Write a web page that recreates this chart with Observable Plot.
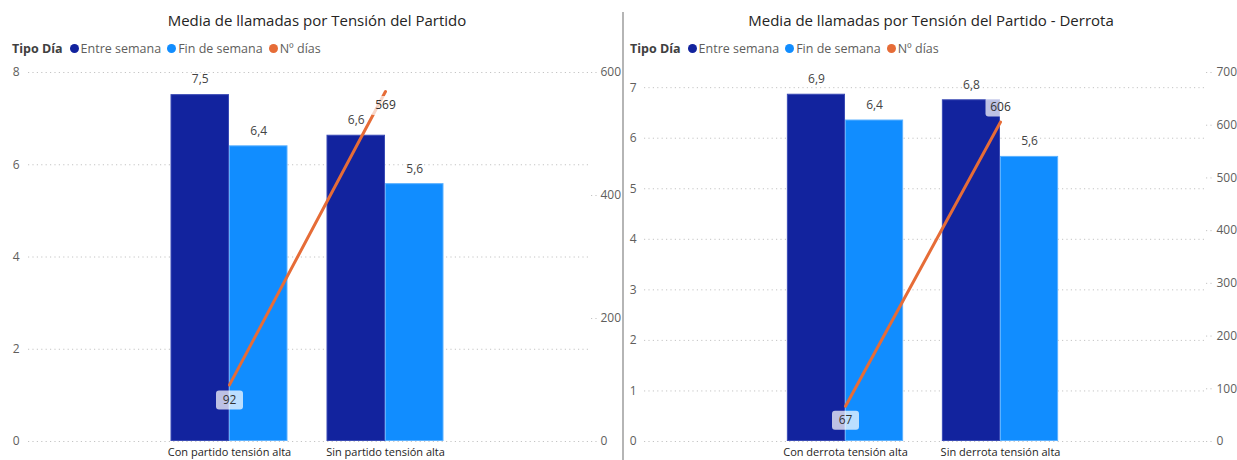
<!DOCTYPE html>
<html><head><meta charset="utf-8">
<script src="https://cdn.jsdelivr.net/npm/d3@7"></script>
<script src="https://cdn.jsdelivr.net/npm/@observablehq/plot@0.6"></script>
<style>
body{margin:0;background:#fff;font-family:"Open Sans",sans-serif;}
#wrap{position:relative;width:1237px;height:460px;overflow:hidden;background:#fff;}
.panel{position:absolute;top:0;height:460px;}
.title{position:absolute;top:10px;left:0;right:0;text-align:center;font-size:15px;color:#252423;white-space:nowrap;}
.legend{position:absolute;top:40px;font-size:12.5px;color:#605E5C;display:flex;align-items:center;white-space:nowrap;}
.legend b{color:#404040;margin-right:7px;font-weight:700;}
.legend .sw{display:inline-block;width:9px;height:9px;border-radius:50%;margin-right:2px;}
.legend .it{margin-right:6px;display:flex;align-items:center;}
.panel svg{position:absolute;left:0;top:0;}
#divider{position:absolute;left:622px;top:12px;width:2px;height:448px;background:#b5b5b5;}
</style></head>
<body><div id="wrap"><div id="divider"></div></div>
<script>
// ---- data ----
const legendTitle = "Tipo Día";
const seriesNames = ["Entre semana", "Fin de semana", "Nº días"];
const seriesColors = ["#12239E", "#118DFF", "#E66C37"];

const titleA = "Media de llamadas por Tensión del Partido";
const catsA = ["Con partido tensión alta", "Sin partido tensión alta"];
const entreA = [7.52, 6.64];
const finA = [6.41, 5.59];
const diasA = [92, 569];
const leftTicksA = [0, 2, 4, 6, 8];
const rightTicksA = [0, 200, 400, 600];

const titleB = "Media de llamadas por Tensión del Partido - Derrota";
const catsB = ["Con derrota tensión alta", "Sin derrota tensión alta"];
const entreB = [6.87, 6.76];
const finB = [6.36, 5.64];
const diasB = [67, 606];
const leftTicksB = [0, 1, 2, 3, 4, 5, 6, 7];
const rightTicksB = [0, 100, 200, 300, 400, 500, 600, 700];

// ---- helpers ----
const fmt = v => d3.format(".1f")(v).replace(".", ",");

function boxSymbol(w, h, r) {
  return {
    draw(ctx) {
      const x0 = -w / 2, y0 = -h / 2, x1 = w / 2, y1 = h / 2;
      ctx.moveTo(x0 + r, y0);
      ctx.lineTo(x1 - r, y0); ctx.arcTo(x1, y0, x1, y0 + r, r);
      ctx.lineTo(x1, y1 - r); ctx.arcTo(x1, y1, x1 - r, y1, r);
      ctx.lineTo(x0 + r, y1); ctx.arcTo(x0, y1, x0, y1 - r, r);
      ctx.lineTo(x0, y0 + r); ctx.arcTo(x0, y0, x0 + r, y0, r);
      ctx.closePath();
    }
  };
}

function drawPanel(cfg) {
  const wrap = document.getElementById("wrap");
  const panel = document.createElement("div");
  panel.className = "panel";
  panel.style.left = cfg.left + "px";
  panel.style.width = cfg.width + "px";
  wrap.appendChild(panel);

  const k = cfg.yMax / cfg.y2Max;
  const half = 0.375;
  const bars = cfg.cats.flatMap((c, i) => [
    {i, s: 0, v: cfg.entre[i]},
    {i, s: 1, v: cfg.fin[i]}
  ]);
  const pts = cfg.cats.map((c, i) => ({i, d: cfg.dias[i], yy: cfg.dias[i] * k}));

  const lineLabelMarks = pts.flatMap((p, j) => {
    const w = String(p.d).length > 2 ? 30 : 27;
    return [
      Plot.dot([p], {x: "i", y: "yy", dy: cfg.labelDy[j], symbol: boxSymbol(w, 19, 3), r: 5,
        fill: "white", fillOpacity: 0.72, stroke: "none"}),
      Plot.text([p], {x: "i", y: "yy", dy: cfg.labelDy[j], text: d => String(d.d), fill: "#333", fontSize: 12})
    ];
  });

  const svg = Plot.plot({
    width: cfg.width, height: 460,
    marginTop: 72, marginBottom: 19, marginLeft: cfg.ml, marginRight: cfg.mr,
    x: {type: "linear", domain: [0, 1], range: cfg.xRange, axis: null, label: null},
    y: {domain: [0, cfg.yMax], axis: null, label: null},
    style: {fontFamily: "Open Sans, sans-serif", fontSize: "12px", background: "white", overflow: "visible"},
    marks: [
      Plot.ruleY(cfg.leftTicks, {stroke: "#c4c4c4", strokeDasharray: "1.2,3.2"}),
      Plot.axisY({ticks: cfg.leftTicks, anchor: "left", tickSize: 0, tickPadding: cfg.lpad, label: null,
        fill: "#605E5C", tickFormat: d => String(d), fontSize: 12}),
      Plot.axisY({ticks: cfg.rightTicks.map(t => t * k), anchor: "right", tickSize: cfg.rtick, label: null,
        tickPadding: cfg.rpad, stroke: "#c4c4c4", strokeDasharray: "1.2,3.2",
        fill: "#605E5C", tickFormat: t => String(Math.round(t / k)), fontSize: 12}),
      Plot.rectY(bars.filter(d => d.s === 0), {x1: d => d.i - half, x2: d => d.i, y1: 0, y2: "v",
        fill: seriesColors[0], stroke: "#3a4ab5", strokeWidth: 1, inset: 0.5}),
      Plot.rectY(bars.filter(d => d.s === 1), {x1: d => d.i, x2: d => d.i + half, y1: 0, y2: "v",
        fill: seriesColors[1], stroke: "#5cb1ff", strokeWidth: 1, inset: 0.5}),
      Plot.text(bars, {x: d => d.i + (d.s === 0 ? -half / 2 : half / 2), y: "v", text: d => fmt(d.v),
        dy: -15, fill: "#444", fontSize: 12}),
      Plot.axisX({ticks: [0, 1], tickFormat: i => cfg.cats[i], tickSize: 0, tickPadding: 7, label: null,
        fill: "#252423", fontSize: 11, anchor: "bottom"}),
      Plot.line(pts, {x: "i", y: "yy", stroke: seriesColors[2], strokeWidth: 3}),
      ...lineLabelMarks
    ]
  });
  panel.appendChild(svg);

  const t = document.createElement("div");
  t.className = "title";
  t.style.paddingLeft = cfg.titleShift + "px";
  t.textContent = cfg.title;
  panel.appendChild(t);

  const lg = document.createElement("div");
  lg.className = "legend";
  lg.style.left = cfg.legendLeft + "px";
  const b = document.createElement("b");
  b.textContent = legendTitle;
  lg.appendChild(b);
  seriesNames.forEach((n, idx) => {
    const it = document.createElement("span");
    it.className = "it";
    const sw = document.createElement("span");
    sw.className = "sw";
    sw.style.background = seriesColors[idx];
    it.appendChild(sw);
    it.appendChild(document.createTextNode(n));
    lg.appendChild(it);
  });
  panel.appendChild(lg);
}

drawPanel({left: 0, width: 620, ml: 28, mr: 30, lpad: 9, rtick: 6, rpad: 4,
  xRange: [229, 385], yMax: 8, y2Max: 600, labelDy: [15, 14],
  cats: catsA, entre: entreA, fin: finA, dias: diasA,
  leftTicks: leftTicksA, rightTicks: rightTicksA, title: titleA, titleShift: 14, legendLeft: 12});

drawPanel({left: 625, width: 612, ml: 19, mr: 32, lpad: 8, rtick: 6, rpad: 5,
  xRange: [220, 375], yMax: 7.3, y2Max: 700, labelDy: [14, -15],
  cats: catsB, entre: entreB, fin: finB, dias: diasB,
  leftTicks: leftTicksB, rightTicks: rightTicksB, title: titleB, titleShift: 0, legendLeft: 5});
</script>
</body></html>
